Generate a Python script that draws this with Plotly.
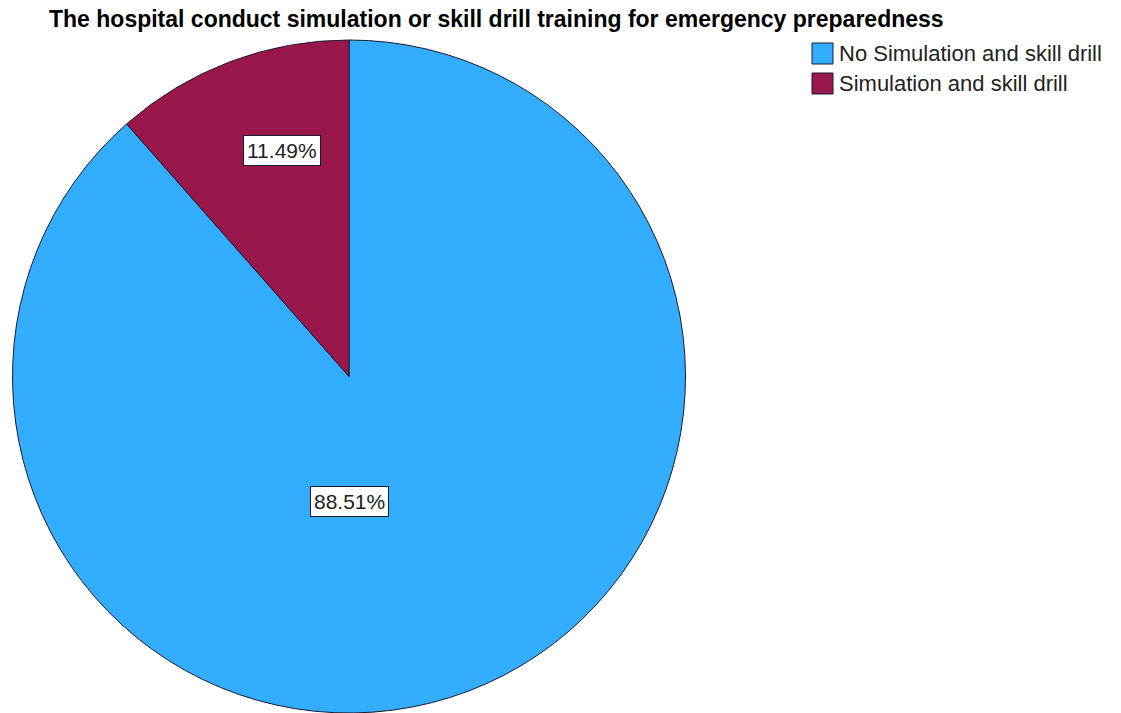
import math
import plotly.graph_objects as go

# Survey responses: share of hospitals by drill practice
categories = ["No Simulation and skill drill", "Simulation and skill drill"]
percentages = [88.51, 11.49]
colors = ["#33adff", "#9a174c"]

W, H = 1121, 713
FONT = "Liberation Sans, Arial, sans-serif"
EDGE = "#1a1a2e"

# pie placement in pixels (left, right, top)
px_left, px_right, px_top = 12, 686, 40
dom_x = [px_left / W, px_right / W]
dom_y = [0.0, 1 - px_top / H]

fig = go.Figure(
    go.Pie(
        labels=categories,
        values=percentages,
        sort=False,
        direction="clockwise",
        rotation=0,
        marker=dict(colors=colors, line=dict(color=EDGE, width=1)),
        textinfo="none",
        hoverinfo="label+percent",
        domain=dict(x=dom_x, y=dom_y),
        showlegend=False,
    )
)

# label boxes: placed along each slice at a radial fraction of the pie radius
cx = (px_left + px_right) / 2
cy_top = px_top + (px_right - px_left) / 2
radius = (px_right - px_left) / 2
label_spots = [(180.0, 0.37), (-16.5, 0.70)]  # (angle from 12 o'clock clockwise, radial fraction)
total = sum(percentages)
for pct, (ang, frac) in zip(percentages, label_spots):
    a = math.radians(ang)
    x_px = cx + frac * radius * math.sin(a)
    y_px = cy_top - frac * radius * math.cos(a)
    fig.add_annotation(
        x=x_px / W, y=1 - y_px / H, xref="paper", yref="paper",
        xanchor="center", yanchor="middle",
        text=f"{pct / total * 100:.2f}%",
        showarrow=False,
        font=dict(family=FONT, size=21, color="#222222"),
        bgcolor="white", bordercolor=EDGE, borderwidth=1, borderpad=3,
    )

# legend: coloured swatches with category names
leg_x, leg_y, sw, row_h = 812, 43, 21, 30
for i, (name, col) in enumerate(zip(categories, colors)):
    top = leg_y + i * row_h
    fig.add_shape(
        type="rect", xref="paper", yref="paper",
        x0=leg_x / W, x1=(leg_x + sw) / W,
        y0=1 - (top + sw) / H, y1=1 - top / H,
        fillcolor=col, line=dict(color=EDGE, width=1),
    )
    fig.add_annotation(
        x=(leg_x + sw + 4) / W, y=1 - (top + sw / 2) / H,
        xref="paper", yref="paper", xanchor="left", yanchor="middle",
        text=name, showarrow=False,
        font=dict(family=FONT, size=22, color="#222222"),
    )

fig.update_layout(
    width=W, height=H,
    margin=dict(l=0, r=0, t=0, b=0),
    paper_bgcolor="white", plot_bgcolor="white",
    title=dict(
        text="<b>The hospital conduct simulation or skill drill training for emergency preparedness</b>",
        x=49 / W, xanchor="left", y=1 - 19 / H, yanchor="middle",
        font=dict(family=FONT, size=23, color="black"),
    ),
    showlegend=False,
)

fig.write_html("out.html")
